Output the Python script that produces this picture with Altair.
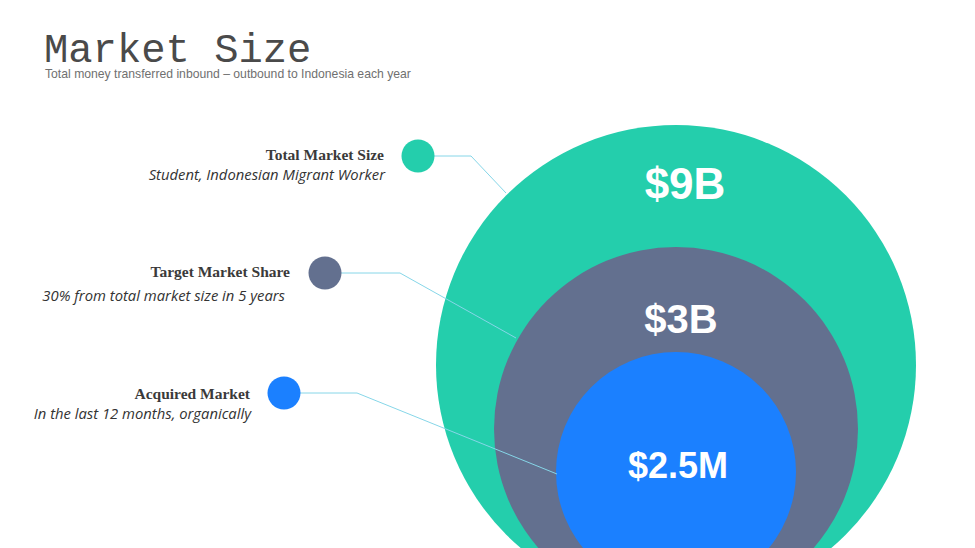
import altair as alt
import pandas as pd

W, H = 975, 548

# ---- content ----
categories = ["Total Market Size", "Target Market Share", "Acquired Market"]
descriptions = ["Student, Indonesian Migrant Worker",
                "30% from total market size in 5 years",
                "In  the last 12 months, organically"]
values = ["$9B", "$3B", "$2.5M"]
colors = ["#24CEAC", "#63708F", "#1B80FF"]
title_text = "Market Size"
subtitle_text = "Total money transferred inbound \u2013 outbound to Indonesia each year"

# ---- layout (pixel space) ----
circle_cx = [676, 676, 676]
circle_cy = [365, 429, 472]
circle_r = [240, 182, 120]
value_x = [685, 681, 678]
value_y = [186, 321, 467]
value_size = [44, 40, 36]
dot_x = [418, 325, 284]
dot_y = [156, 273, 393]
dot_r = 16.5
label_x = [384, 290, 250]
label_y = [155, 272, 394]
desc_x = [385, 285, 251]
desc_y = [176, 297, 415]
elbow_x = [471, 400, 357]
end_x = [506, 516, 557]
end_y = [193, 338, 474]

# Vega circle symbol: radius = sqrt(size) / 2
circles = pd.DataFrame({
    "cat": categories, "x": circle_cx, "y": circle_cy,
    "size": [(2 * r) ** 2 for r in circle_r], "color": colors,
    "order": [0, 1, 2],
})
dots = pd.DataFrame({
    "cat": categories, "x": dot_x, "y": dot_y,
    "size": [(2 * dot_r) ** 2] * 3, "color": colors,
})
labels = pd.DataFrame({"text": categories, "x": label_x, "y": label_y})
descs = pd.DataFrame({"text": descriptions, "x": desc_x, "y": desc_y})
vals = pd.DataFrame({"text": values, "x": value_x, "y": value_y, "fs": value_size})

line_rows = []
for i, c in enumerate(categories):
    line_rows += [
        {"cat": c, "o": 0, "x": dot_x[i], "y": dot_y[i]},
        {"cat": c, "o": 1, "x": elbow_x[i], "y": dot_y[i]},
        {"cat": c, "o": 2, "x": end_x[i], "y": end_y[i]},
    ]
lines = pd.DataFrame(line_rows)

xs = alt.Scale(domain=[0, W], range=[0, W], nice=False, zero=False)
ys = alt.Scale(domain=[0, H], range=[0, H], nice=False, zero=False)
X = alt.X("x:Q", scale=xs, axis=None)
Y = alt.Y("y:Q", scale=ys, axis=None)

big = alt.Chart(circles).mark_circle(opacity=1, strokeWidth=0).encode(
    x=X, y=Y,
    size=alt.Size("size:Q", scale=None, legend=None),
    color=alt.Color("color:N", scale=None, legend=None),
    order=alt.Order("order:Q"),
)

conn = alt.Chart(lines).mark_line(color="#86D6E8", strokeWidth=1).encode(
    x=X, y=Y, detail="cat:N", order="o:Q"
)

dot = alt.Chart(dots).mark_circle(opacity=1, strokeWidth=0).encode(
    x=X, y=Y,
    size=alt.Size("size:Q", scale=None, legend=None),
    color=alt.Color("color:N", scale=None, legend=None),
)

lab = alt.Chart(labels).mark_text(
    align="right", baseline="middle", font="Liberation Serif",
    fontSize=15.5, fontWeight="bold", color="#3a3a3a"
).encode(x=X, y=Y, text="text:N")

desc = alt.Chart(descs).mark_text(
    align="right", baseline="middle", font="Open Sans",
    fontSize=14.8, fontStyle="italic", color="#333333"
).encode(x=X, y=Y, text="text:N")

val = alt.Chart(vals).mark_text(
    align="center", baseline="middle", font="Liberation Sans",
    fontWeight="bold", color="white"
).encode(x=X, y=Y, text="text:N", size=alt.Size("fs:Q", scale=None, legend=None))

title_df = pd.DataFrame({"text": [title_text], "x": [44], "y": [62]})
sub_df = pd.DataFrame({"text": [subtitle_text], "x": [45], "y": [74]})

ttl = alt.Chart(title_df).mark_text(
    align="left", baseline="alphabetic", font="Liberation Mono",
    fontSize=40.5, color="#4a4a4a"
).encode(x=X, y=Y, text="text:N")

sub = alt.Chart(sub_df).mark_text(
    align="left", baseline="middle", font="Liberation Sans",
    fontSize=12.2, color="#707070"
).encode(x=X, y=Y, text="text:N")

chart = alt.layer(big, conn, dot, lab, desc, val, ttl, sub).properties(
    width=W, height=H, padding=0, autosize=alt.AutoSizeParams(type="none"),
    background="white"
).configure_view(stroke=None, clip=True)

chart.save("out.html", embed_options={"renderer": "svg", "actions": False})
